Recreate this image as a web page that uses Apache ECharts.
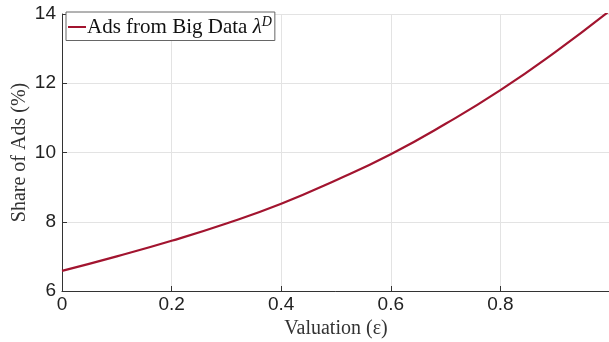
<!DOCTYPE html>
<html><head><meta charset="utf-8">
<script src="https://cdn.jsdelivr.net/npm/echarts@6/dist/echarts.min.js"></script>
<style>html,body{margin:0;padding:0;background:#fff}#c{width:609px;height:342px}</style>
</head><body><div id="c"></div>
<script>
const xValues = [0, 0.1, 0.2, 0.3, 0.4, 0.5, 0.6, 0.7, 0.8, 0.9, 1.0];
const shareAds = [6.58, 7.0, 7.45, 7.95, 8.52, 9.2, 9.95, 10.83, 11.8, 12.9, 14.1];
const seriesName = 'Ads from Big Data';
const xTicks = [0, 0.2, 0.4, 0.6, 0.8];
const yTicks = [6, 8, 10, 12, 14];

const chart = echarts.init(document.getElementById('c'));
const sans = 'Liberation Sans, Arial, sans-serif';
const serif = 'Liberation Serif, Times New Roman, serif';
chart.setOption({
  animation: false,
  backgroundColor: '#fff',
  grid: { left: 62, top: 14, width: 548, height: 277, containLabel: false, outerBoundsMode: 'none' },
  xAxis: {
    type: 'value', min: 0, max: 1, interval: 0.2,
    name: 'Valuation (ε)', nameLocation: 'middle', nameGap: 27,
    nameTextStyle: { fontFamily: serif, fontSize: 20, color: '#333' },
    axisLine: { show: true, onZero: false, lineStyle: { color: '#333', width: 1 } },
    axisTick: { show: true, inside: true, length: 5, lineStyle: { color: '#333' } },
    axisLabel: { fontFamily: sans, fontSize: 19, color: '#222', margin: 4, showMaxLabel: false,
      formatter: v => xTicks.includes(Math.round(v*10)/10) ? String(v) : '' },
    splitLine: { show: true, lineStyle: { color: '#e3e3e3' } }
  },
  yAxis: {
    type: 'value', min: 6, max: 14, interval: 2,
    name: 'Share of Ads (%)', nameLocation: 'middle', nameGap: 32, nameMoveOverlap: false,
    nameTextStyle: { fontFamily: serif, fontSize: 20, color: '#333' },
    axisLine: { show: true, lineStyle: { color: '#333', width: 1 } },
    axisTick: { show: true, inside: true, length: 5, lineStyle: { color: '#333' } },
    axisLabel: { fontFamily: sans, fontSize: 19, color: '#222', margin: 6,
      formatter: v => yTicks.includes(v) ? String(v) : '' },
    splitLine: { show: true, lineStyle: { color: '#e3e3e3' } }
  },
  legend: {
    left: 66, top: 12, orient: 'vertical',
    backgroundColor: '#fff', borderColor: '#666', borderWidth: 1, borderRadius: 0,
    padding: [3, 3, 3, 2], itemGap: 0,
    icon: 'rect', itemWidth: 18, itemHeight: 2,
    textStyle: {
      fontFamily: serif, fontSize: 21, color: '#111', padding: [0, 0, 0, -4],
      rich: {
        n: { fontFamily: serif, fontSize: 21, color: '#111' },
        l: { fontFamily: serif, fontSize: 21, fontStyle: 'italic', color: '#111' },
        s: { fontFamily: serif, fontSize: 14, fontStyle: 'italic', color: '#111', padding: [0, 0, 10, 0] }
      }
    },
    formatter: name => '{n|' + name + ' }{l|λ}{s|D}'
  },
  series: [{
    name: seriesName, type: 'line', smooth: true, showSymbol: false,
    data: xValues.map((x, i) => [x, shareAds[i]]),
    lineStyle: { color: '#A2142F', width: 2.2 }, itemStyle: { color: '#A2142F' }
  }]
});
</script></body></html>
